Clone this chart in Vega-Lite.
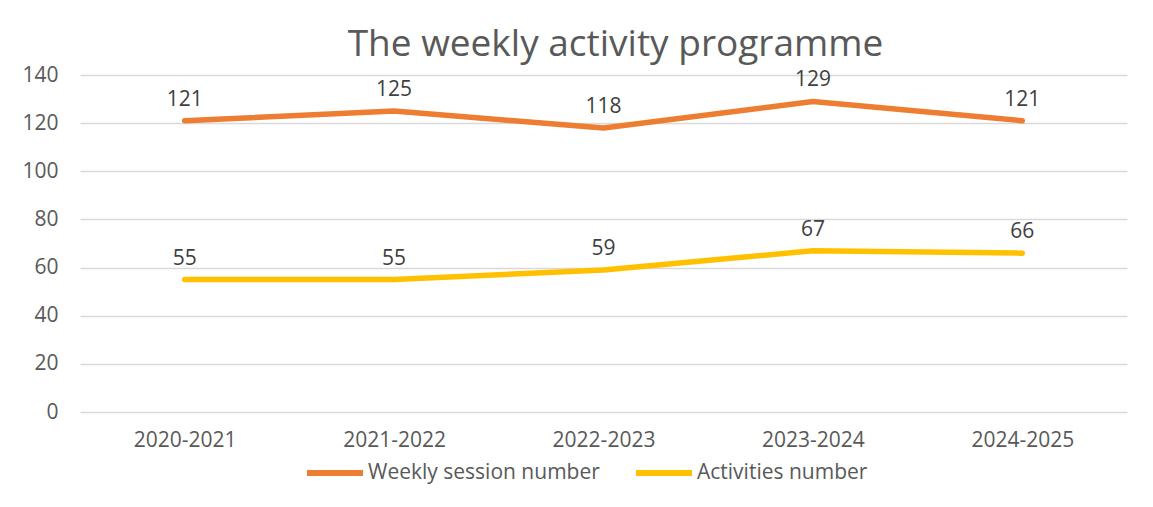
{
  "$schema": "https://vega.github.io/schema/vega-lite/v6.json",
  "autosize": "none",
  "width": 1047,
  "height": 337,
  "padding": {"left": 80, "top": 75, "right": 26, "bottom": 95},
  "background": "white",
  "title": {
    "text": "The weekly activity programme",
    "font": "Open Sans",
    "fontSize": 37,
    "fontWeight": "normal",
    "color": "#595959",
    "anchor": "middle",
    "dx": 12,
    "dy": 44,
    "baseline": "alphabetic",
    "offset": 15
  },
  "data": {
    "values": [
      {"year": "2020-2021", "series": "Weekly session number", "value": 121},
      {"year": "2021-2022", "series": "Weekly session number", "value": 125},
      {"year": "2022-2023", "series": "Weekly session number", "value": 118},
      {"year": "2023-2024", "series": "Weekly session number", "value": 129},
      {"year": "2024-2025", "series": "Weekly session number", "value": 121},
      {"year": "2020-2021", "series": "Activities number", "value": 55},
      {"year": "2021-2022", "series": "Activities number", "value": 55},
      {"year": "2022-2023", "series": "Activities number", "value": 59},
      {"year": "2023-2024", "series": "Activities number", "value": 67},
      {"year": "2024-2025", "series": "Activities number", "value": 66}
    ]
  },
  "encoding": {
    "x": {
      "field": "year",
      "type": "ordinal",
      "scale": {"type": "point", "padding": 0.5},
      "axis": {
        "title": null,
        "labelAngle": 0,
        "labelFont": "Open Sans",
        "labelFontSize": 21,
        "labelColor": "#595959",
        "ticks": false,
        "domain": false,
        "grid": false,
        "labelPadding": 17
      }
    },
    "y": {
      "field": "value",
      "type": "quantitative",
      "scale": {"domain": [0, 140]},
      "axis": {
        "title": null,
        "values": [0, 20, 40, 60, 80, 100, 120, 140],
        "labelFont": "Open Sans",
        "labelFontSize": 21,
        "labelColor": "#595959",
        "ticks": false,
        "domain": false,
        "gridColor": "#d9d9d9",
        "gridWidth": 1.5,
        "labelPadding": 22
      }
    },
    "color": {
      "field": "series",
      "type": "nominal",
      "scale": {
        "domain": ["Weekly session number", "Activities number"],
        "range": ["#ED7D31", "#FFC000"]
      },
      "legend": {
        "title": null,
        "orient": "none",
        "direction": "horizontal",
        "legendX": 224,
        "legendY": 367,
        "symbolType": "stroke",
        "symbolSize": 3136,
        "symbolStrokeWidth": 6,
        "labelFont": "Open Sans",
        "labelFontSize": 21,
        "labelColor": "#595959",
        "labelLimit": 500,
        "labelOffset": 2,
        "columnPadding": 24
      }
    }
  },
  "layer": [
    {
      "mark": {"type": "line", "strokeWidth": 5.5, "strokeCap": "round", "strokeJoin": "round"}
    },
    {
      "mark": {"type": "text", "font": "Open Sans", "fontSize": 21, "color": "#404040", "baseline": "middle", "dy": -21},
      "encoding": {
        "text": {"field": "value", "type": "quantitative"},
        "color": {"value": "#404040"}
      }
    }
  ],
  "config": {
    "view": {"stroke": null}
  }
}
